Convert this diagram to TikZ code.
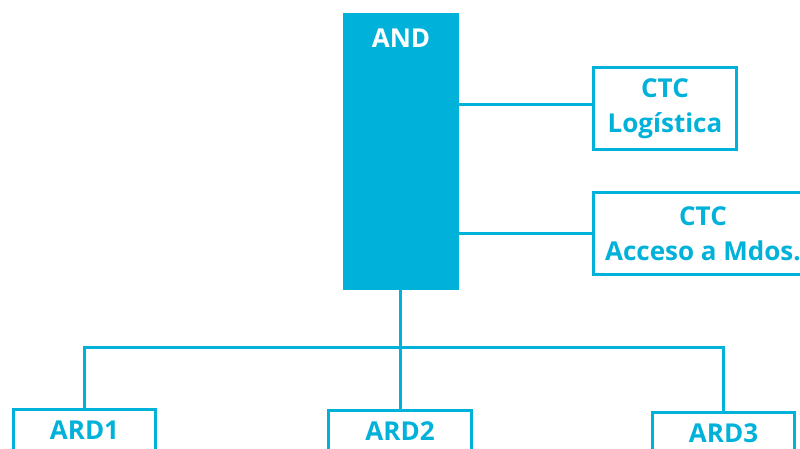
\documentclass[tikz,border=0pt]{standalone}
\usepackage{fontspec}
\setmainfont{Open Sans}
\definecolor{andblue}{RGB}{0,178,217}
\begin{document}
\begin{tikzpicture}[x=1pt,y=-1pt,
  txt/.style={font=\bfseries\fontsize{26}{35}\selectfont},
  box/.style={draw=andblue, line width=3pt, fill=white, inner sep=0pt, align=center, text=andblue, txt},
  conn/.style={draw=andblue, line width=3pt}]
\useasboundingbox (0,0) rectangle (800,448);
\clip (0,0) rectangle (800,448);
% main block
\node[fill=andblue, minimum width=116pt, minimum height=277pt, inner sep=0pt] (AND) at (401,151.5) {};
\node[txt, text=white, inner sep=0pt] (andlbl) at (401,38) {AND};
% side boxes
\node[box, minimum width=143pt, minimum height=82pt] (ctc1) at (665,108.5) {CTC\\Logística};
\node[box, minimum width=219pt, minimum height=82pt] (ctc2) at (703,233.5) {CTC\\Acceso a Mdos.};
% bottom boxes
\node[box, minimum width=142pt, minimum height=42pt] (ard1) at (84.5,430) {ARD1};
\node[box, minimum width=143pt, minimum height=42pt] (ard2) at (400,431) {ARD2};
\node[box, minimum width=142pt, minimum height=42pt] (ard3) at (723.5,433) {ARD3};
\coordinate (j) at (400,347);
\coordinate (c1) at ([yshift=4.5pt]ctc1.west);
% connectors
\draw[conn] (c1) -- (AND.east |- c1);
\draw[conn] (ctc2.west) -- (AND.east |- ctc2.west);
\draw[conn] (AND.south -| ard2.north) -- (ard2.north);
\draw[conn] (ard1.north) |- (j) -| (ard3.north);
\end{tikzpicture}
\end{document}
